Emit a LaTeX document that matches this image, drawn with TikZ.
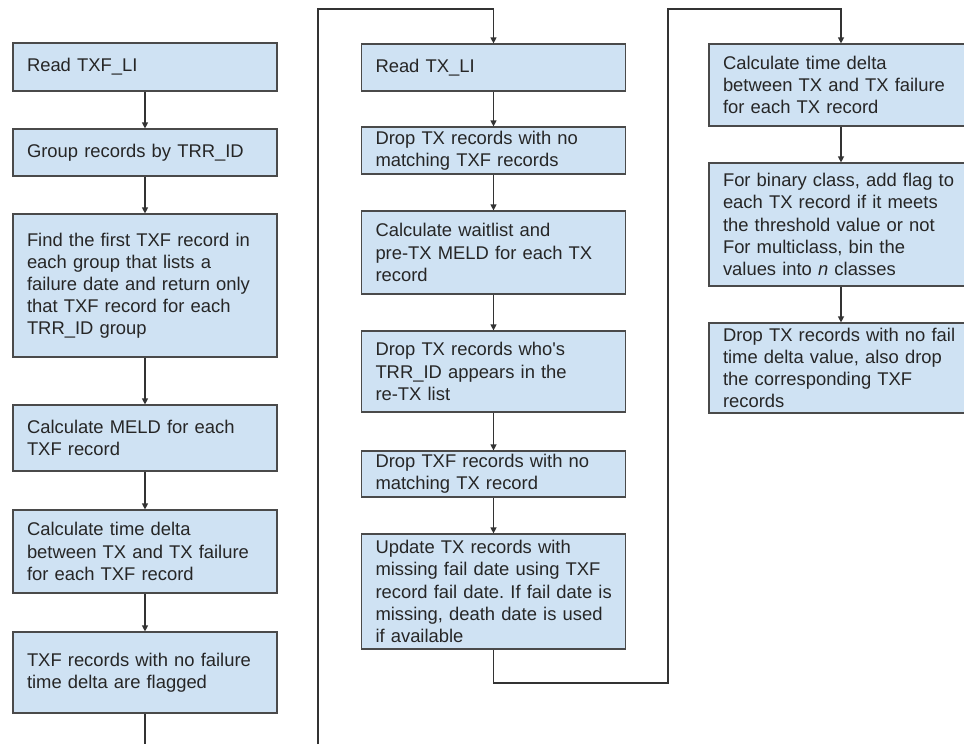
\documentclass[tikz,border=0pt]{standalone}
\usepackage{fontspec}
\setmainfont{Liberation Sans}[Ligatures=TeXOff]
\usetikzlibrary{arrows.meta}
\definecolor{boxfill}{HTML}{CFE2F3}
\definecolor{boxline}{HTML}{4A4A4A}
\definecolor{conn}{HTML}{333333}
\frenchspacing
\hfuzz=20pt
\tikzset{
  stepbox/.style={draw=boxline, fill=boxfill, line width=0.9pt, rectangle,
    minimum width=198pt, text width=177pt, inner xsep=10.5pt, inner ysep=0pt,
    align=left, font=\fontsize{13.8}{16.6}\selectfont\frenchspacing, text=black!85},
  link/.style={draw=conn, line width=0.9pt},
  arr/.style={link, -{Triangle[length=4.5pt,width=4.5pt]}}
}
\begin{document}
\begin{tikzpicture}[x=0.75pt, y=-0.75pt]
\useasboundingbox[fill=white] (0,0) rectangle (964,744);
% left column
\node[stepbox, minimum height=36pt]    (L1) at (145,67)    {Read TXF\_LI};
\node[stepbox, minimum height=35.25pt] (L2) at (145,152.5) {Group records by TRR\_ID};
\node[stepbox, minimum height=107.25pt](L3) at (145,285.5) {Find the first TXF record in\\each group that lists a\\failure date and return only\\that TXF record for each\\TRR\_ID group};
\node[stepbox, minimum height=49.5pt]  (L4) at (145,438)   {Calculate MELD for each\\TXF record};
\node[stepbox, minimum height=62.25pt] (L5) at (145,551.5) {Calculate time delta\\between TX and TX failure\\for each TXF record};
\node[stepbox, minimum height=60.75pt] (L6) at (145,672.5) {TXF records with no failure\\time delta are flagged};
% middle column
\node[stepbox, minimum height=35.25pt] (M1) at (493.5,67.5)  {Read TX\_LI};
\node[stepbox, minimum height=35.25pt] (M2) at (493.5,150.5) {Drop TX records with no\\matching TXF records};
\node[stepbox, minimum height=62.25pt] (M3) at (493.5,252.5) {Calculate waitlist and\\pre-TX MELD for each TX\\record};
\node[stepbox, minimum height=60.75pt] (M4) at (493.5,371.5) {Drop TX records who's\\TRR\_ID appears in the\\re-TX list};
\node[stepbox, minimum height=34.5pt]  (M5) at (493.5,474)   {Drop TXF records with no\\matching TX record};
\node[stepbox, minimum height=86.25pt] (M6) at (493.5,591.5) {Update TX records with\\missing fail date using TXF\\\mbox{record fail date. If fail date is}\\missing, death date is used\\if available};
% right column
\node[stepbox, minimum height=61.5pt]  (R1) at (841,85)    {Calculate time delta\\between TX and TX failure\\for each TX record};
\node[stepbox, minimum height=92.25pt] (R2) at (841,224.5) {For binary class, add flag to\\each TX record if it meets\\the threshold value or not\\For multiclass, bin the\\values into \textit{n} classes};
\node[stepbox, minimum height=67.5pt]  (R3) at (841,368)   {\mbox{Drop TX records with no fail}\\time delta value, also drop\\the corresponding TXF\\records};
% coordinates
\coordinate (Lend) at (145,744);
\coordinate (Mstart) at (318,744);
\coordinate (Mtop) at (318,9);
\coordinate (Mtop2) at (493.5,9);
\coordinate (Mlow) at (493.5,683);
\coordinate (Mlow2) at (668,683);
\coordinate (Rtop) at (668,9);
\coordinate (Rtop2) at (841,9);
% connectors
\draw[arr] (L1) -- (L2);
\draw[arr] (L2) -- (L3);
\draw[arr] (L3) -- (L4);
\draw[arr] (L4) -- (L5);
\draw[arr] (L5) -- (L6);
\draw[link] (L6) -- (Lend);
\draw[arr] (Mstart) -- (Mtop) -- (Mtop2) -- (M1);
\draw[arr] (M1) -- (M2);
\draw[arr] (M2) -- (M3);
\draw[arr] (M3) -- (M4);
\draw[arr] (M4) -- (M5);
\draw[arr] (M5) -- (M6);
\draw[arr] (M6) -- (Mlow) -- (Mlow2) -- (Rtop) -- (Rtop2) -- (R1);
\draw[arr] (R1) -- (R2);
\draw[arr] (R2) -- (R3);
\end{tikzpicture}
\end{document}
